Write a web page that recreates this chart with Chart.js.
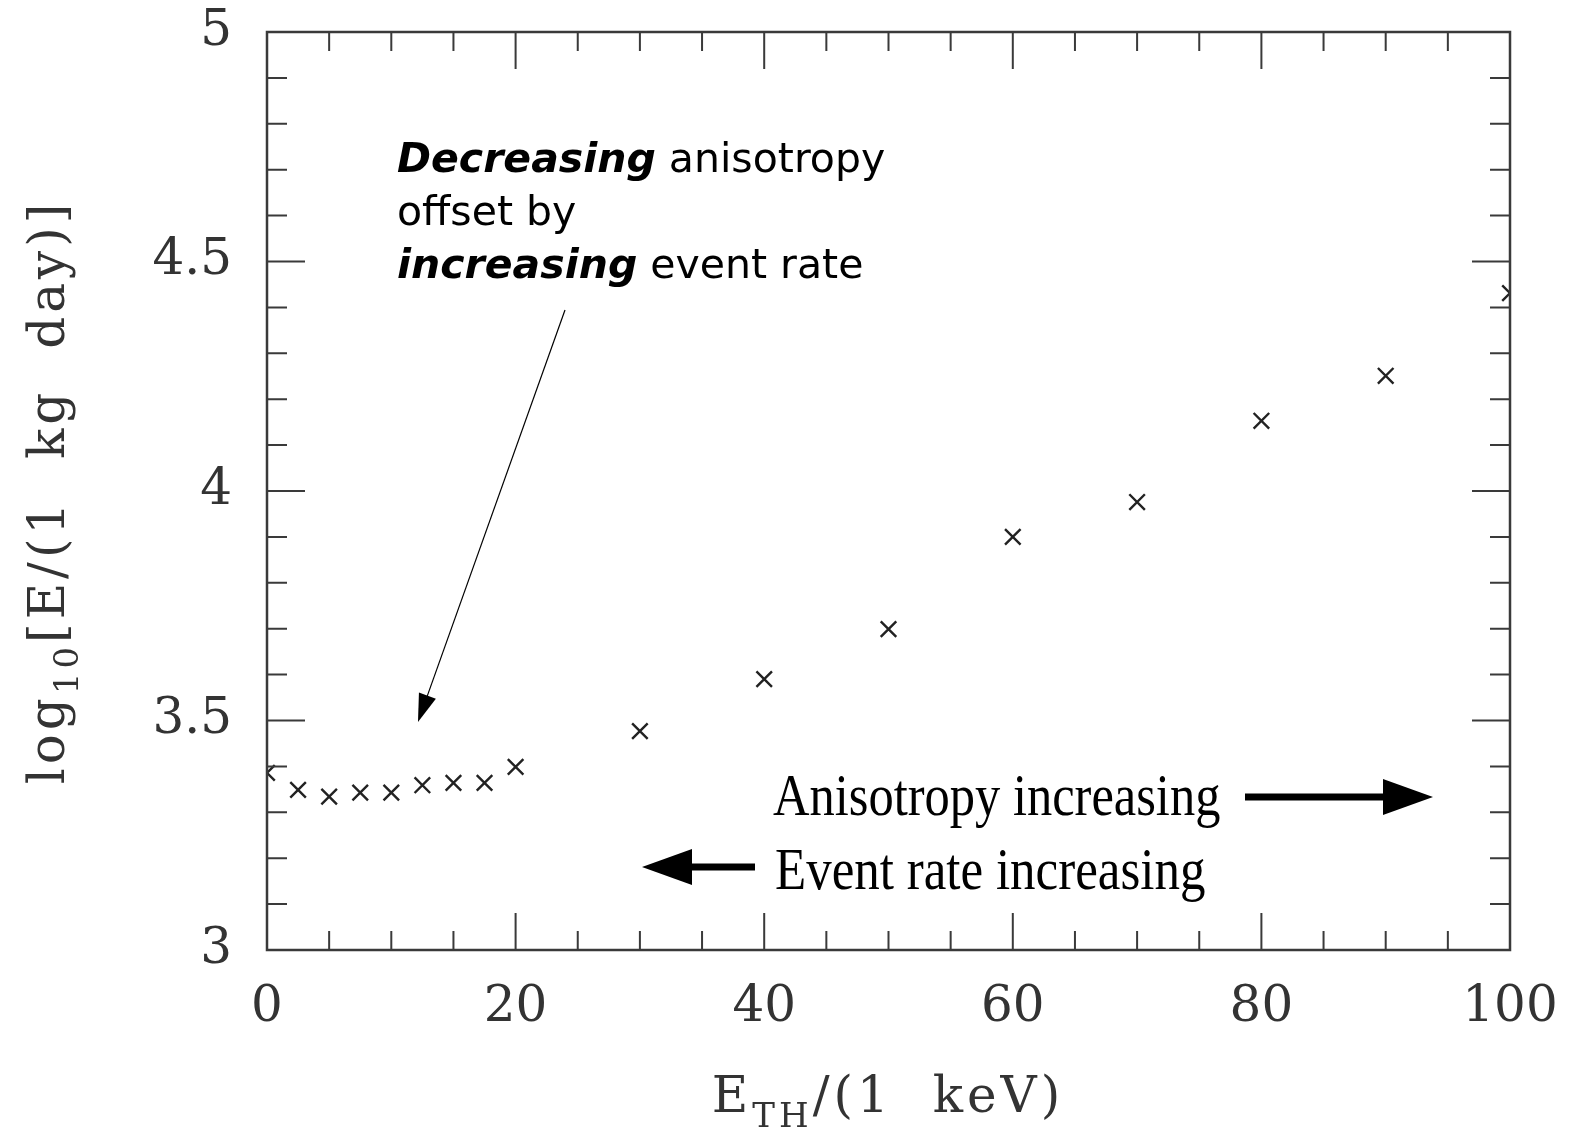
<!DOCTYPE html>
<html>
<head>
<meta charset="utf-8">
<script src="https://cdn.jsdelivr.net/npm/chart.js@4.4.1/dist/chart.umd.min.js"></script>
<style>
  html, body { margin: 0; padding: 0; background: #fff; }
  #wrap { width: 1572px; height: 1135px; }
</style>
</head>
<body>
<div id="wrap"><canvas id="plot" width="1572" height="1135"></canvas></div>
<script>
// threshold energy (keV) and log10 of the required exposure (kg day)
const thresholds = [0, 2.5, 5, 7.5, 10, 12.5, 15, 17.5, 20, 30, 40, 50, 60, 70, 80, 90, 100];
const logExposure = [3.386, 3.349, 3.334, 3.343, 3.343, 3.359, 3.364, 3.364, 3.399,
                     3.477, 3.590, 3.699, 3.900, 3.976, 4.153, 4.251, 4.431];
const xTickLabels = ['0', '20', '40', '60', '80', '100'];
const yTickLabels = ['3', '3.5', '4', '4.5', '5'];

const inkColor = '#333';
const serif = '"DejaVu Serif", serif';

function tickText(list, v) {
  const s = String(+v.toFixed(1));
  return list.includes(s) ? s : '';
}

// frame with inward ticks on all four sides, long ticks where a label sits
const framePlugin = {
  id: 'frame',
  afterDatasetsDraw(chart) {
    const { ctx, chartArea: a, scales } = chart;
    ctx.save();
    ctx.strokeStyle = '#3a3a3a';
    ctx.lineWidth = 2.5;
    ctx.strokeRect(a.left, a.top, a.right - a.left, a.bottom - a.top);
    ctx.lineWidth = 2;
    ctx.beginPath();
    scales.x.ticks.forEach(t => {
      const px = scales.x.getPixelForValue(t.value);
      const len = t.label ? 37 : 19;
      ctx.moveTo(px, a.bottom); ctx.lineTo(px, a.bottom - len);
      ctx.moveTo(px, a.top); ctx.lineTo(px, a.top + len);
    });
    scales.y.ticks.forEach(t => {
      const py = scales.y.getPixelForValue(t.value);
      const len = t.label ? 38 : 20;
      ctx.moveTo(a.left, py); ctx.lineTo(a.left + len, py);
      ctx.moveTo(a.right, py); ctx.lineTo(a.right - len, py);
    });
    ctx.stroke();
    ctx.restore();
  }
};

// draws a run of [text, font, dy] pieces left to right from (x, y)
function drawRun(ctx, pieces, x, y) {
  pieces.forEach(([txt, font, dy]) => {
    ctx.font = font;
    ctx.fillText(txt, x, y + (dy || 0));
    x += ctx.measureText(txt).width;
  });
  return x;
}
function runWidth(ctx, pieces) {
  let w = 0;
  pieces.forEach(([txt, font]) => { ctx.font = font; w += ctx.measureText(txt).width; });
  return w;
}

function solidArrow(ctx, x0, x1, y, headLen, headHalf, thick) {
  const dir = Math.sign(x1 - x0);
  const base = x1 - dir * headLen;
  ctx.fillRect(Math.min(x0, base), y - thick / 2, Math.abs(base - x0), thick);
  ctx.beginPath();
  ctx.moveTo(base, y - headHalf);
  ctx.lineTo(x1, y);
  ctx.lineTo(base, y + headHalf);
  ctx.closePath();
  ctx.fill();
}

const annotationPlugin = {
  id: 'annotations',
  afterDraw(chart) {
    const ctx = chart.ctx;
    ctx.save();
    ctx.fillStyle = inkColor;
    ctx.textBaseline = 'alphabetic';

    // axis titles, set loosely like the old plotting package did
    ctx.letterSpacing = '4px';
    const main = '50px ' + serif;
    const sub = '34px ' + serif;
    const xTitle = [['E', main], ['TH', sub, 15], ['/(1  keV)', main]];
    const xw = runWidth(ctx, xTitle);
    drawRun(ctx, xTitle, 888 - xw / 2, 1112);

    const yTitle = [['log', main], ['10', sub, 14], ['[E/(1  kg  day)]', main]];
    const yw = runWidth(ctx, yTitle);
    ctx.save();
    ctx.translate(64, 492);
    ctx.rotate(-Math.PI / 2);
    drawRun(ctx, yTitle, -yw / 2, 0);
    ctx.restore();
    ctx.letterSpacing = '0px';

    // note on the low-threshold points
    ctx.fillStyle = '#000';
    const sans = '"DejaVu Sans", sans-serif';
    const bi = 'italic bold 41px ' + sans;
    const rg = '41px ' + sans;
    drawRun(ctx, [['Decreasing', bi], [' anisotropy', rg]], 397, 172);
    drawRun(ctx, [['offset by', rg]], 397, 225);
    drawRun(ctx, [['increasing', bi], [' event rate', rg]], 397, 278);

    ctx.strokeStyle = '#000';
    ctx.lineWidth = 1.2;
    const tip = [418, 722], tail = [565, 310];
    const ang = Math.atan2(tip[1] - tail[1], tip[0] - tail[0]);
    ctx.beginPath();
    ctx.moveTo(tail[0], tail[1]);
    ctx.lineTo(tip[0] - 20 * Math.cos(ang), tip[1] - 20 * Math.sin(ang));
    ctx.stroke();
    ctx.beginPath();
    ctx.moveTo(tip[0], tip[1]);
    ctx.lineTo(tip[0] - 28 * Math.cos(ang) + 9 * Math.sin(ang), tip[1] - 28 * Math.sin(ang) - 9 * Math.cos(ang));
    ctx.lineTo(tip[0] - 28 * Math.cos(ang) - 9 * Math.sin(ang), tip[1] - 28 * Math.sin(ang) + 9 * Math.cos(ang));
    ctx.closePath();
    ctx.fill();

    // trend labels with block arrows
    ctx.font = '50.5px "Liberation Serif", "Times New Roman", serif';
    ctx.save();
    ctx.translate(773, 815);
    ctx.scale(1, 1.15);
    ctx.fillText('Anisotropy increasing', 0, 0);
    ctx.restore();
    ctx.font = '51px "Liberation Serif", "Times New Roman", serif';
    ctx.save();
    ctx.translate(775, 889);
    ctx.scale(1, 1.15);
    ctx.fillText('Event rate increasing', 0, 0);
    ctx.restore();

    solidArrow(ctx, 1245, 1433, 797, 50, 18, 7);
    solidArrow(ctx, 755, 642, 867, 50, 18, 7);

    ctx.restore();
  }
};

new Chart(document.getElementById('plot'), {
  type: 'scatter',
  data: {
    datasets: [{
      data: thresholds.map((x, i) => ({ x, y: logExposure[i] })),
      pointStyle: 'crossRot',
      pointRadius: 11,
      pointBorderWidth: 2.4,
      borderColor: '#222',
      backgroundColor: '#222',
      clip: 0
    }]
  },
  options: {
    responsive: false,
    animation: false,
    events: [],
    layout: { padding: { top: 32, right: 62, left: 0, bottom: 0 } },
    plugins: { legend: { display: false }, tooltip: { enabled: false } },
    scales: {
      x: {
        type: 'linear',
        min: 0, max: 100,
        border: { display: false },
        // tick marks are drawn inward by the frame plugin; the hidden
        // outward tick length only spaces the labels off the axis
        grid: { display: false, drawTicks: true, tickLength: 28 },
        ticks: {
          stepSize: 5, autoSkip: false, maxRotation: 0, padding: 0,
          color: inkColor, font: { family: serif, size: 50 },
          callback: v => tickText(xTickLabels, v)
        },
        afterFit: s => { s.height = 185; }
      },
      y: {
        type: 'linear',
        min: 3, max: 5,
        border: { display: false },
        grid: { display: false, drawTicks: true, tickLength: 35 },
        ticks: {
          stepSize: 0.1, autoSkip: false, padding: 0,
          color: inkColor, font: { family: serif, size: 50 },
          callback: v => tickText(yTickLabels, v)
        },
        afterFit: s => { s.width = 267; }
      }
    }
  },
  plugins: [framePlugin, annotationPlugin]
});
</script>
</body>
</html>
